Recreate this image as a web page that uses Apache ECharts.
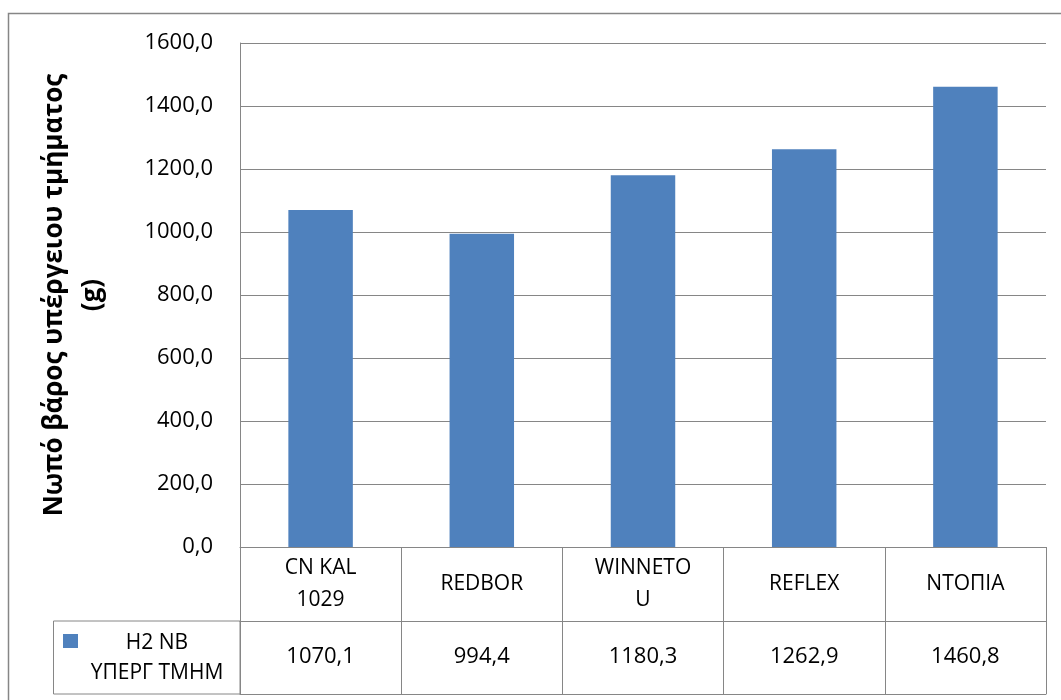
<!DOCTYPE html>
<html>
<head>
<meta charset="utf-8">
<script src="https://cdn.jsdelivr.net/npm/echarts@6/dist/echarts.min.js"></script>
<style>
  html, body { margin: 0; padding: 0; background: #fff; }
  #chart { width: 1061px; height: 700px; }
</style>
</head>
<body>
<div id="chart"></div>
<script>
const categories = ['CN KAL\n1029', 'REDBOR', 'WINNETO\nU', 'REFLEX', 'ΝΤΟΠΙΑ'];
const values = [1070.1, 994.4, 1180.3, 1262.9, 1460.8];
const seriesName = 'H2 NB ΥΠΕΡΓ ΤΜΗΜ';
const yTitle = 'Νωπό βάρος υπέργειου τμήματος\n(g)';

const FONT = '"Open Sans", sans-serif';
const LINE = '#868686';
const BLUE = '#4F81BD';

// plot box in pixels
const G = { left: 240, right: 15, top: 43, bottom: 153 };
const ROW = 74;

const fmt = v => v.toFixed(1).replace('.', ',');

const chart = echarts.init(document.getElementById('chart'));

chart.setOption({
    animation: false,
    textStyle: { fontFamily: FONT },
    grid: G,
    xAxis: [
        {
            type: 'category',
            data: categories,
            axisLine: { lineStyle: { color: LINE } },
            axisTick: { show: true, interval: 0, length: ROW * 2 - 1, lineStyle: { color: LINE } },
            axisLabel: {
                interval: 0, margin: 37, verticalAlign: 'middle',
                color: '#000', fontSize: 21, lineHeight: 32, fontFamily: FONT
            }
        },
        {
            type: 'category',
            data: categories,
            position: 'bottom',
            offset: ROW,
            axisLine: { lineStyle: { color: LINE } },
            axisTick: { show: false },
            axisLabel: {
                interval: 0, margin: 36, verticalAlign: 'middle',
                color: '#000', fontSize: 22, fontFamily: FONT,
                formatter: (v, i) => fmt(values[i])
            }
        },
        {
            type: 'category',
            data: categories,
            position: 'bottom',
            offset: ROW * 2 - 1,
            axisLine: { lineStyle: { color: LINE } },
            axisTick: { show: false },
            axisLabel: { show: false }
        }
    ],
    yAxis: {
        type: 'value',
        min: 0, max: 1600, interval: 200,
        name: yTitle,
        nameLocation: 'middle',
        nameRotate: 90,
        nameGap: 128,
        nameTextStyle: { color: '#000', fontSize: 26, fontWeight: 'bold', lineHeight: 38, fontFamily: FONT },
        axisLine: { show: true, lineStyle: { color: LINE } },
        axisTick: { show: false },
        splitLine: { lineStyle: { color: LINE } },
        axisLabel: { margin: 27, color: '#000', fontSize: 22, fontFamily: FONT, formatter: v => fmt(v) }
    },
    series: [{
        name: seriesName,
        type: 'bar',
        data: values,
        barWidth: '40%',
        itemStyle: { color: BLUE }
    }],
    graphic: [
        // outer frame
        { type: 'rect', shape: { x: 8.5, y: 13.5, width: 1100, height: 800 }, style: { fill: 'none', stroke: LINE, lineWidth: 1.5 }, silent: true },
        // legend cell of the data table
        { type: 'rect', shape: { x: 53.5, y: 547 + ROW, width: G.left - 53.5, height: ROW - 1 }, style: { fill: 'none', stroke: LINE, lineWidth: 1 }, silent: true },
        { type: 'rect', shape: { x: 63, y: 634, width: 15, height: 14 }, style: { fill: BLUE }, silent: true },
        {
            type: 'text', x: 157, y: 658,
            style: {
                text: 'H2 NB\nΥΠΕΡΓ ΤΜΗΜ', align: 'center', verticalAlign: 'middle',
                font: '21px ' + FONT, lineHeight: 30, fill: '#000'
            },
            silent: true
        }
    ]
});
</script>
</body>
</html>
